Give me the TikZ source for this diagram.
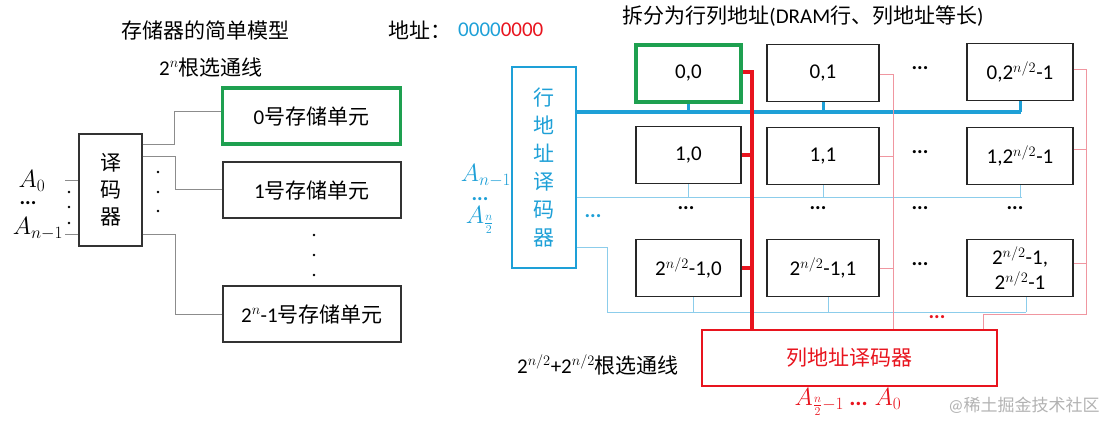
\documentclass[tikz,border=0pt]{standalone}
\usepackage{fontspec}
\setmainfont{Carlito}
\newfontfamily\cjk{Noto Sans CJK SC}
\definecolor{cblue}{RGB}{30,160,215}
\definecolor{lblue}{RGB}{140,205,235}
\definecolor{cred}{RGB}{232,20,30}
\definecolor{pink}{RGB}{240,150,160}
\definecolor{cgreen}{RGB}{30,160,80}
\definecolor{lgray}{RGB}{140,140,140}
\begin{document}
\begin{tikzpicture}[x=1pt,y=-1pt,
  every node/.style={font=\fontsize{21}{25}\selectfont},
  cell/.style={draw=black!85,line width=1.4pt,minimum height=57pt,inner sep=0pt,align=center},
  lcell/.style={draw=black!80,line width=1.2pt,minimum width=178pt,minimum height=56pt,inner sep=0pt},
  gline/.style={lgray,line width=0.9pt},
  tblue/.style={lblue,line width=1pt},
  tpink/.style={pink,line width=1pt},
  dots/.style={font=\bfseries\fontsize{21}{25}\selectfont,inner sep=0pt},
  alab/.style={inner sep=0pt,font=\fontsize{23}{25}\selectfont}]
\useasboundingbox (0,0) rectangle (1118,431);
% ---------- left ----------
\node (t1) at (205,30) {\cjk 存储器的简单模型};
\node (t2) at (211,67) {2$^{n}${\cjk 根选通线}};
\node (addr) at (420,30) {\cjk 地址：};
\node[anchor=west,inner sep=0pt] (bits) at (458,30) {\textcolor{cblue}{0000}\textcolor{cred}{0000}};
\node[draw=black!80,line width=1.2pt,minimum width=63pt,minimum height=112pt,align=center,inner sep=0pt] (dec) at (110.5,190) {\cjk 译\\[2pt]\cjk 码\\[2pt]\cjk 器};
\node[lcell,draw=cgreen,line width=3.6pt] (m0) at (311.5,116) {0{\cjk 号存储单元}};
\node[lcell] (m1) at (312,190) {1{\cjk 号存储单元}};
\node[lcell] (m2) at (312,314) {2$^{n}$-1{\cjk 号存储单元}};
\node[alab] (a0) at (32,181) {$A_0$};
\node[dots] (ad) at (28,203) {...};
\node[alab] (an) at (38,229) {$A_{n-1}$};
\coordinate (l0) at (65,180);
\coordinate (l1) at (65,234);
\draw[gline] (l0) -- (dec.west |- l0);
\draw[gline] (l1) -- (dec.west |- l1);
\foreach \y in {192,207,223} \fill (69,\y) circle (1.3pt);
\draw[gline] (dec.east |- 0,144) -| (174,111) -- (m0.west |- 0,111);
\draw[gline] (dec.east |- 0,156) -| (175,189) -- (m1.west |- 0,189);
\draw[gline] (dec.east |- 0,234) -| (175,314) -- (m2.west);
\foreach \y in {172,192,211} \fill (158,\y) circle (1.3pt);
\foreach \y in {235,255,275} \fill (314,\y) circle (1.3pt);
% ---------- right ----------
\node (t3) at (803,16) {{\cjk 拆分为行列地址}(DRAM{\cjk 行、列地址等长})};
\node[draw=cblue,line width=1.1pt,minimum width=64pt,minimum height=201pt,align=center,text=cblue,inner sep=0pt] (rdec) at (544,167.5)
  {\cjk 行\\[3pt]\cjk 地\\[3pt]\cjk 址\\[3pt]\cjk 译\\[3pt]\cjk 码\\[3pt]\cjk 器};
\node[draw=cred,line width=1.1pt,minimum width=295pt,minimum height=56pt,text=cred] (cdec) at (849.5,358) {\cjk 列地址译码器};
\node[text=cblue,alab] (ra1) at (486,176) {$A_{n-1}$};
\node[text=cblue,dots] (ra2) at (480,199) {...};
\node[text=cblue,alab] (ra3) at (480,220) {$A_{\frac{n}{2}}$};
\node[text=cred,alab] (ca) at (848,402) {$A_{\frac{n}{2}-1}$ \textbf{...} $A_0$};
\node (sel) at (598,365) {2$^{n/2}$+2$^{n/2}${\cjk 根选通线}};
\node[text=black!30,font=\fontsize{17}{20}\selectfont] (wm) at (1024,405) {@{\cjk 稀土掘金技术社区}};
% cells
\node[cell,draw=cgreen,line width=3.6pt,minimum width=105pt] (c00) at (688.5,73.5) {0,0};
\node[cell,minimum width=112pt] (c01) at (823,73) {0,1};
\node[cell,minimum width=106pt] (c02) at (1020,72) {0,2$^{n/2}$-1};
\node[cell,minimum width=105pt] (c10) at (688.5,155) {1,0};
\node[cell,minimum width=112pt] (c11) at (823,156) {1,1};
\node[cell,minimum width=106pt] (c12) at (1020,156) {1,2$^{n/2}$-1};
\node[cell,minimum width=105pt] (c20) at (688.5,268) {2$^{n/2}$-1,0};
\node[cell,minimum width=112pt] (c21) at (823,268) {2$^{n/2}$-1,1};
\node[cell,minimum width=106pt] (c22) at (1020,268) {2$^{n/2}$-1,\\2$^{n/2}$-1};
\foreach \x/\y in {920/72,920/156,920/268,686/212,818/212,920/212,1015/212} \node[dots] at (\x,\y-4) {...};
\node[text=cblue,dots] at (593,216) {...};
\node[text=cred,dots] at (937,317) {...};
% blue row lines
\draw[cblue,line width=3.4pt] (rdec.east |- 0,112) -- (1021,112);
\draw[cblue,line width=3pt] (c00.south) -- (c00.south |- 0,112);
\draw[cblue,line width=3pt] (c01.south) -- (c01.south |- 0,112);
\draw[cblue,line width=3pt] (c02.south) -- (c02.south |- 0,112);
\draw[tblue] (rdec.east |- 0,197) -- (1022,197);
\foreach \c in {c10,c11,c12} \draw[tblue] (\c.south) -- (\c.south |- 0,197);
\draw[tblue] (rdec.east |- 0,247) -| (607,312) -- (1026,312);
\draw[tblue] (693,297) -- (693,312);
\draw[tblue] (828,297) -- (828,312);
\draw[tblue] (1026,297) -- (1026,312);
% red column lines
\draw[cred,line width=3.4pt] (c00.east |- 0,72) -| (cdec.north -| 752,0);
\draw[cred,line width=3.4pt] (c10.east) -- (752,155);
\draw[cred,line width=3.4pt] (c20.east) -- (752,268);
\draw[tpink] (c01.east |- 0,74) -| (cdec.north -| 893,0);
\draw[tpink] (c11.east |- 0,156) -- (893,156);
\draw[tpink] (c21.east |- 0,268) -- (893,268);
\draw[tpink] (c02.east |- 0,69) -| (1086,314) -| (cdec.north -| 983,0);
\draw[tpink] (c12.east |- 0,149) -- (1086,149);
\draw[tpink] (c22.east |- 0,263) -- (1086,263);
\end{tikzpicture}
\end{document}
